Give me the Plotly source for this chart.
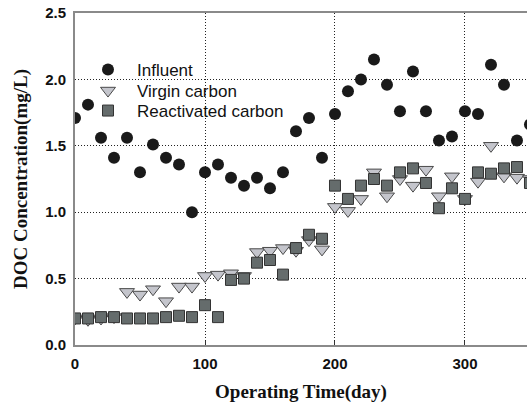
import plotly.graph_objects as go

days = [0, 10, 20, 30, 40, 50, 60, 70, 80, 90, 100, 110, 120, 130, 140, 150, 160, 170,
        180, 190, 200, 210, 220, 230, 240, 250, 260, 270, 280, 290, 300, 310, 320, 330, 340, 350]

influent = [1.71, 1.81, 1.56, 1.41, 1.56, 1.30, 1.51, 1.41, 1.36, 1.00, 1.30, 1.36, 1.26, 1.20,
            1.26, 1.18, 1.30, 1.61, 1.71, 1.41, 1.74, 1.91, 2.00, 2.15, 1.96, 1.76, 2.06, 1.76,
            1.54, 1.57, 1.76, 1.74, 2.11, 1.96, 1.54, 1.66]

virgin = [0.20, 0.19, 0.20, 0.21, 0.40, 0.38, 0.42, 0.33, 0.44, 0.44, 0.52, 0.53, 0.54, 0.52,
          0.70, 0.71, 0.73, 0.71, 0.79, 0.72, 1.04, 1.01, 1.10, 1.30, 1.12, 1.25, 1.20, 1.32,
          1.12, 1.27, 1.10, 1.23, 1.50, 1.27, 1.26, 1.25]

reactivated = [0.20, 0.20, 0.21, 0.21, 0.20, 0.20, 0.20, 0.21, 0.22, 0.21, 0.30, 0.21, 0.49, 0.50,
               0.62, 0.64, 0.53, 0.73, 0.83, 0.80, 1.20, 1.10, 1.20, 1.25, 1.20, 1.30, 1.33, 1.22,
               1.03, 1.18, 1.10, 1.30, 1.29, 1.33, 1.34, 1.22]

x_ticks = [0, 100, 200, 300]
y_ticks = [0.0, 0.5, 1.0, 1.5, 2.0, 2.5]
y_tick_text = ["0.0", "0.5", "1.0", "1.5", "2.0", "2.5"]

legend_font = dict(size=17, family="Liberation Sans, Arial", color="#111")

fig = go.Figure()
fig.add_trace(go.Scatter(
    x=days, y=influent, mode="markers", name="Influent", legend="legend",
    marker=dict(symbol="circle", size=12, color="#1a1a1a", line=dict(width=0)),
))
fig.add_trace(go.Scatter(
    x=days, y=virgin, mode="markers", name="Virgin carbon", legend="legend2",
    marker=dict(symbol="triangle-down", size=13, color="#c4c5cc",
                line=dict(width=1, color="#4a4a4a")),
))
fig.add_trace(go.Scatter(
    x=days, y=reactivated, mode="markers", name="Reactivated carbon", legend="legend3",
    marker=dict(symbol="square", size=11, color="#656c6c",
                line=dict(width=1, color="#333333")),
))

def leg(ypix):
    return dict(x=(79 - 75) / 452, y=(345 - ypix) / 332, xanchor="left", yanchor="middle",
                bgcolor="rgba(0,0,0,0)", borderwidth=0, font=legend_font,
                itemwidth=48)

fig.update_layout(
    width=527, height=411,
    margin=dict(l=75, r=0, t=13, b=66, autoexpand=False),
    paper_bgcolor="white", plot_bgcolor="white",
    font=dict(family="Liberation Sans, Arial", color="#111"),
    showlegend=True,
    legend=leg(70),
    legend2=leg(91),
    legend3=leg(111),
)
fig.update_xaxes(
    range=[0, 347.7], tickvals=x_ticks, ticktext=["<b>%d</b>" % v for v in x_ticks],
    showgrid=True, gridcolor="#222", griddash="1px,2px", gridwidth=1,
    zeroline=False, showline=True, linecolor="#8a8a8a", linewidth=2, mirror=True,
    ticks="inside", ticklen=4, tickcolor="#333", automargin=False,
    ticklabelstandoff=4, ticklabeloverflow="allow",
    tickfont=dict(size=15, family="Liberation Sans, Arial"),
    title=dict(text="<b>Operating Time(day)</b>", standoff=14,
               font=dict(size=19, family="Liberation Serif, Times New Roman")),
)
fig.update_yaxes(
    range=[0, 2.5], tickvals=y_ticks, ticktext=["<b>%s</b>" % t for t in y_tick_text],
    showgrid=True, gridcolor="#222", griddash="1px,2px", gridwidth=1,
    zeroline=False, showline=True, linecolor="#8a8a8a", linewidth=2,
    ticks="", ticklabelstandoff=4, automargin=False, ticklabeloverflow="allow",
    tickfont=dict(size=15, family="Liberation Sans, Arial"),
    title=dict(text="<b>DOC Concentration(mg/L)</b>", standoff=12,
               font=dict(size=19, family="Liberation Serif, Times New Roman")),
)

# remove the default 8px page margin so the figure fills the window exactly
fig.write_html("out.html", config={"displayModeBar": False},
               post_script="document.body.style.margin='0px';")
